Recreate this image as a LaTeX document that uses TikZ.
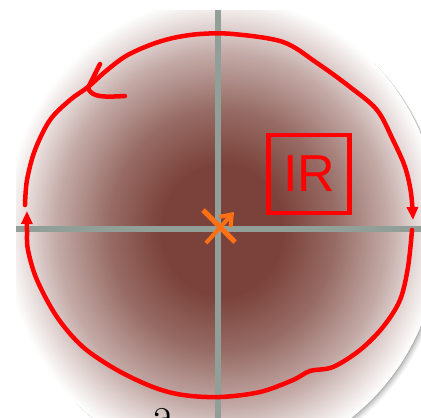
\documentclass[tikz,border=0pt]{standalone}
\usepackage{fontspec}
\newfontfamily\arialf{Liberation Sans}
\usetikzlibrary{arrows.meta}
\definecolor{dk}{RGB}{122,66,58}
\definecolor{axisg}{RGB}{146,159,152}
\definecolor{redc}{RGB}{255,0,0}
\definecolor{orng}{RGB}{255,112,20}
\pgfdeclareradialshading{diskshade}{\pgfpoint{0bp}{0bp}}{color(0bp)=(dk); color(7bp)=(dk); color(13bp)=(dk!78!white); color(19bp)=(dk!45!white); color(23bp)=(dk!15!white); color(25bp)=(white); color(50bp)=(white)}
\tikzset{
  redline/.style={draw=redc,line width=4.5pt,line cap=round,line join=round},
  redtip/.style={-{Triangle[length=13pt,width=11pt]}},
  axisline/.style={draw=axisg,line width=6pt},
  crossline/.style={draw=orng,line width=5pt},
}
\begin{document}
\begin{tikzpicture}[x=1pt,y=-1pt]
\useasboundingbox (0,0) rectangle (421,418);
\begin{scope}
\clip (16,10) rectangle (421,418);
\foreach \o/\op in {5/0.04,4/0.05,3/0.06,2/0.08,1/0.1}{
  \fill[black,opacity=\op] (222+\o,230+\o) ellipse [x radius=218, y radius=233];
}
\fill[white] (222,230) ellipse [x radius=218, y radius=233];
\shade[shading=diskshade] (222,230) ellipse [x radius=218, y radius=233];
\draw[axisline] (218,10) -- (218,418);
\draw[axisline] (16,229) -- (421,229);
\node[anchor=base west, inner sep=0pt, font=\fontsize{50}{50}\selectfont] (lbl) at (152,430) {a};
\end{scope}
% IR box
\node[draw=redc, line width=4.5pt, minimum width=81pt, minimum height=78pt, inner sep=0pt,
      text=redc, font=\arialf\fontsize{52}{52}\selectfont] (ir) at (309,174) {IR};
% red contour, upper part
\draw[redline, redtip] plot[smooth, tension=0.55] coordinates {(25,205) (27,180) (35,150) (50,120) (70,100) (88,87) (106,71) (126,56) (150,45) (173,38) (200,34) (233,34) (283,42) (317,63) (350,87) (377,110) (393,140) (405,167) (411,193) (413,220)};
% red contour, lower part
\draw[redline, redtip] plot[smooth, tension=0.55] coordinates {(412,230) (408,267) (400,300) (383,327) (360,350) (333,367) (310,371) (293,380) (260,392) (220,397) (183,395) (153,387) (117,370) (83,347) (57,317) (37,280) (28,250) (27,230) (27,211)};
% hand-drawn arrow mark
\coordinate (v) at (88,88);
\draw[redline] (100,64) -- (v) .. controls (92,98) and (105,97) .. (125,96);
% orange cross
\coordinate (c1) at (203,210);
\coordinate (c2) at (235,242);
\coordinate (c3) at (206,243);
\coordinate (c4) at (234,212);
\draw[crossline] (c1) -- (c2);
\draw[draw=orng, line width=4pt, -{Straight Barb[length=10pt,width=15pt]}] (c3) -- (c4);
\end{tikzpicture}
\end{document}
